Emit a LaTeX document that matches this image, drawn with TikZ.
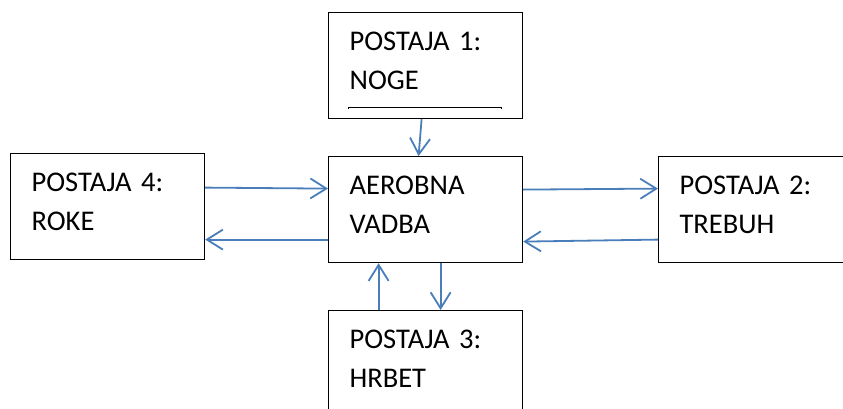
\documentclass[tikz,border=0pt]{standalone}
\usepackage{fontspec}
\setmainfont{Carlito}[WordSpace=0.75]
\usetikzlibrary{arrows.meta}

\definecolor{freccia}{RGB}{74,126,187}

\tikzset{
  postaja/.style={draw=black, line width=1.2pt, anchor=north west,
    minimum width=194pt, minimum height=106pt, text width=152pt,
    inner xsep=21pt, align=left, text height=18pt, text depth=49pt,
    font=\fontsize{28.5pt}{39pt}\selectfont},
  freccia/.style={draw=freccia, line width=1.8pt,
    -{Straight Barb[length=16pt,width=20pt]}}
}

\begin{document}
\begin{tikzpicture}[x=1pt, y=-1pt]

        % Area visibile
        \clip (0,0) rectangle (843,409);

        % Scatola centrale
        \node[postaja] (vadba) at (328,156) {AEROBNA\\VADBA};

        % Le quattro postaje
        \node[postaja] (post1) at (328,12) {POSTAJA 1:\\NOGE};
        \node[postaja] (post2) at (658,156) {POSTAJA 2:\\TREBUH};
        \node[postaja] (post3) at (328,310) {POSTAJA 3:\\HRBET};
        \node[postaja] (post4) at (10,153) {POSTAJA 4:\\ROKE};

        % Linea sottile dentro la postaja 1
        \draw[line width=0.8pt] ([xshift=20pt,yshift=10pt]post1.south west)
            -- ++(0,-2) -- ++(153,0) -- ++(0,2);

        % Frecce in alto e in basso
        \draw[freccia] ([xshift=-4pt]post1.south) -- ([xshift=-7pt]vadba.north);
        \draw[freccia] ([xshift=-47pt]post3.north) -- ([xshift=-47pt]vadba.south);
        \draw[freccia] ([xshift=15pt]vadba.south) -- ([xshift=15pt]post3.north);

        % Frecce a sinistra
        \draw[freccia] ([yshift=19pt]post4.east) -- ([yshift=21pt]vadba.west);
        \draw[freccia] ([yshift=-30pt]vadba.west) -- ([yshift=-33pt]post4.east);

        % Frecce a destra
        \draw[freccia] ([yshift=20pt]vadba.east) -- ([yshift=21pt]post2.west);
        \draw[freccia] ([yshift=-30pt]post2.west) -- ([yshift=-32pt]vadba.east);

    \end{tikzpicture}
\end{document}
